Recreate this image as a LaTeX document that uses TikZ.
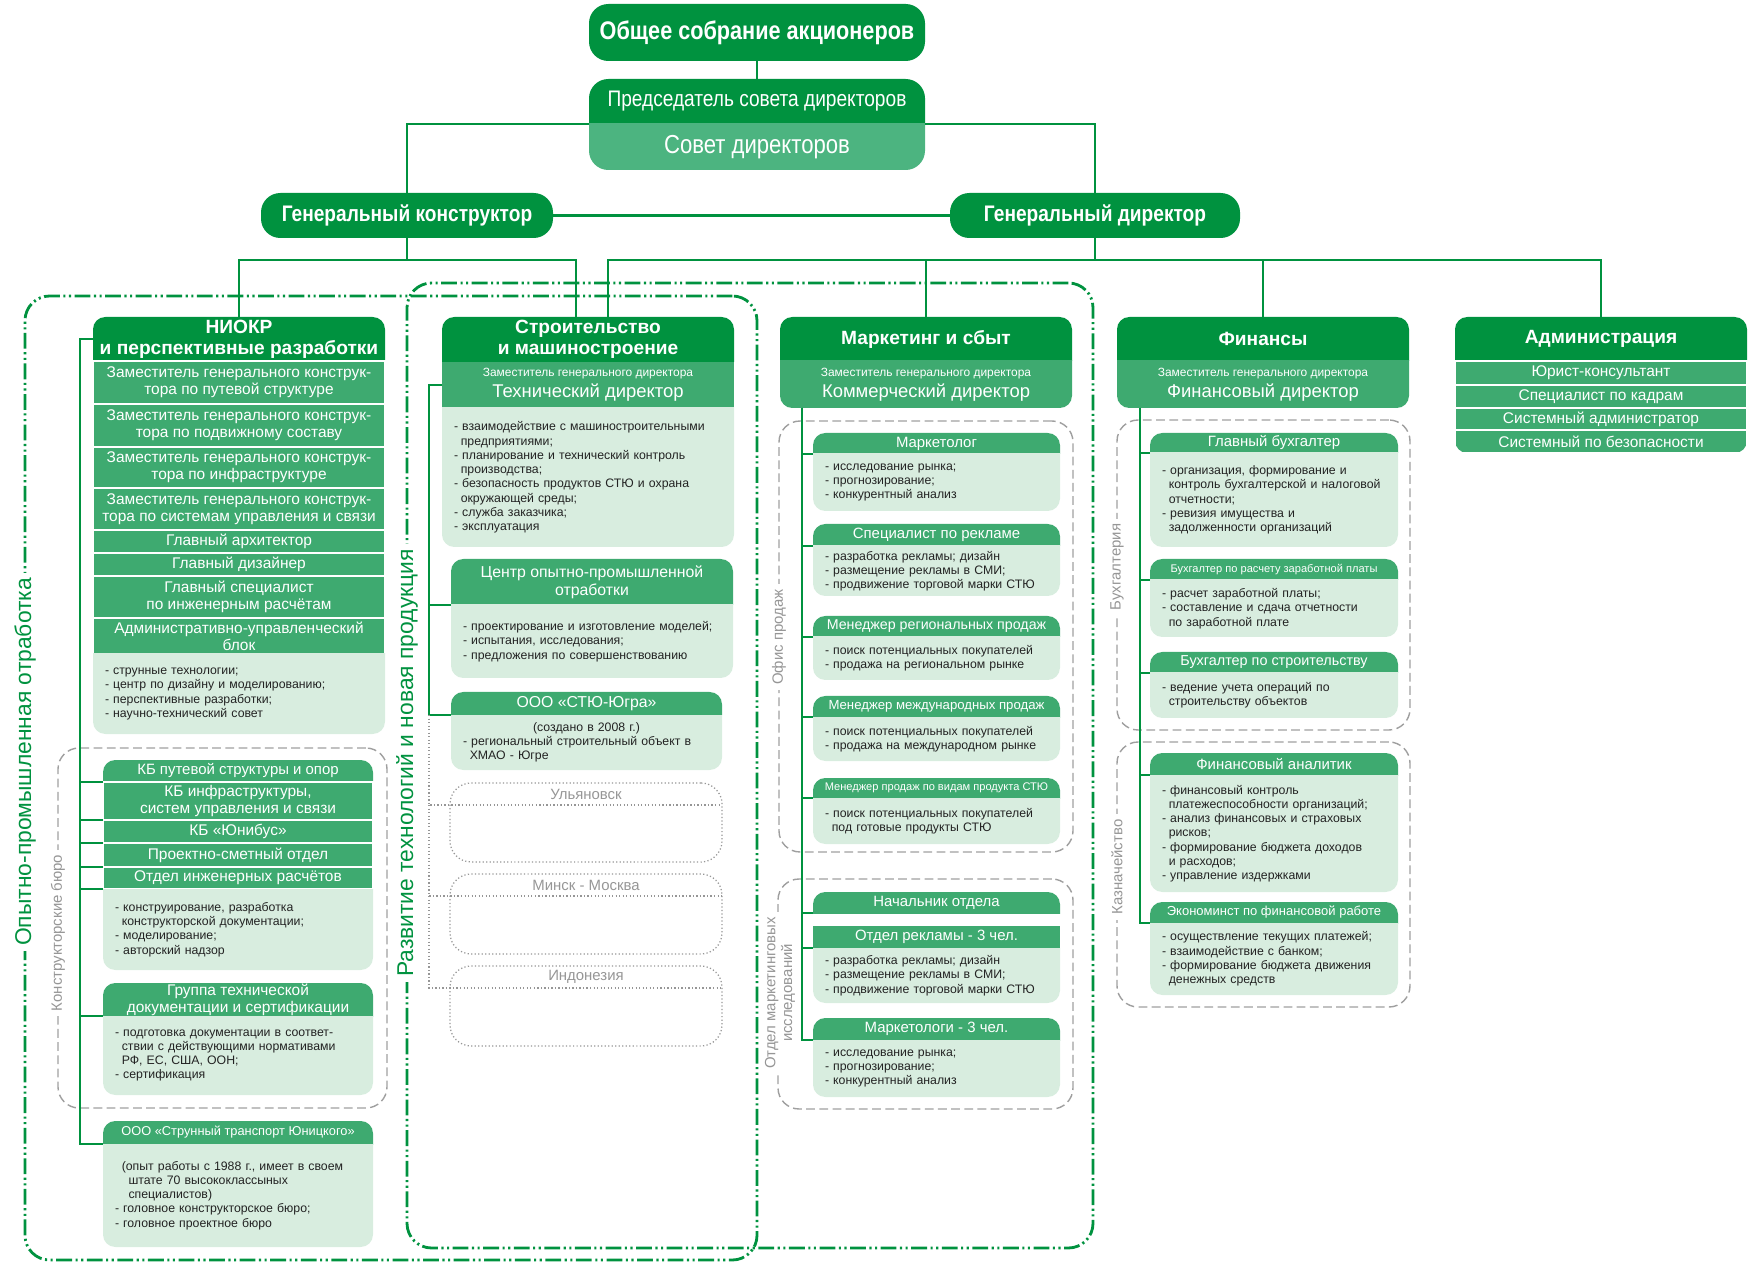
\documentclass[tikz,border=0pt]{standalone}
\usepackage{fontspec}
\setmainfont{Liberation Sans}
\newfontfamily\narrowfont[FakeStretch=0.85]{Liberation Sans}
\usepackage{xcolor}
\usepackage{tikz}
\usetikzlibrary{positioning}

\definecolor{darkg}{RGB}{0,146,63}
\definecolor{midg}{RGB}{62,170,112}
\definecolor{boardg}{RGB}{76,180,128}
\definecolor{lightg}{RGB}{216,237,223}
\definecolor{txtc}{RGB}{35,35,35}
\definecolor{lblgray}{RGB}{150,150,150}

\newcommand{\pxu}{0.02cm}
\newcommand{\contind}{\hspace*{0.55em}}

\begin{document}
\begin{tikzpicture}[
    x=0.02cm, y=-0.02cm,
    node distance=0pt,
    every node/.style={inner sep=0pt, outer sep=0pt},
    boxw/.style={minimum width=#1*\pxu},
    boxh/.style={minimum height=#1*\pxu},
    toprnd/.style={path picture={\fill[rounded corners=7pt,#1] ([yshift=-12pt]path picture bounding box.south west) rectangle (path picture bounding box.north east);}},
    botrnd/.style={path picture={\fill[rounded corners=7pt,#1] (path picture bounding box.south west) rectangle ([yshift=12pt]path picture bounding box.north east);}},
    topbox/.style={fill=darkg, rounded corners=11pt, text=white, anchor=north west},
    colhead/.style={toprnd=darkg, boxw=292, boxh=44, anchor=north west, text=white, align=center, font=\bfseries\fontsize{10.9}{12}\selectfont},
    rowbox/.style={fill=midg, draw=white, line width=1pt, text=white, align=center, font=\fontsize{8.8}{9.8}\selectfont},
    subhead/.style={text=white, align=center, font=\fontsize{6.8}{12}\selectfont},
    cardhead/.style={toprnd=midg, text=white, align=center, font=\fontsize{8.5}{10}\selectfont},
    cardbody/.style={botrnd=lightg, boxw=#1, text width=#1*\pxu-24*\pxu, text=txtc, align=left, font=\fontsize{7}{8.1}\selectfont},
    conn/.style={draw=darkg, line width=1.6pt},
    dotline/.style={draw=lblgray, line width=0.7pt, dash pattern=on 0.7pt off 1.3pt},
    ddframe/.style={draw=darkg, line width=1.6pt, rounded corners=14pt, dash pattern=on 9pt off 2pt on 1.2pt off 2pt on 1.2pt off 2pt, anchor=north west},
    frlabel/.style={fill=white, text=darkg, rotate=90, inner xsep=3pt, font=\fontsize{13}{15}\selectfont},
    grpbox/.style={draw=gray!75, line width=0.8pt, rounded corners=12pt, dash pattern=on 5pt off 2.5pt, anchor=north west},
    grlabel/.style={fill=white, text=lblgray, rotate=90, inner xsep=3pt, align=center, font=\fontsize{8.5}{9.5}\selectfont},
    dotbox/.style={draw=lblgray, line width=0.7pt, dash pattern=on 0.7pt off 1.3pt, rounded corners=12pt, anchor=north west, boxw=272, boxh=79},
    dotlbl/.style={boxw=272, boxh=22, anchor=north, text=lblgray, font=\fontsize{8.5}{10}\selectfont}
]
\useasboundingbox (0,0) rectangle (1752,1263);

% frames
\node[ddframe, boxw=732, boxh=964] (opyt) at (25,296) {};
\node[ddframe, boxw=686, boxh=965] (razv) at (407,283) {};
\node[frlabel] (opytl) at (25,762) {Опытно-промышленная отработка};
\node[frlabel] (razvl) at (407,763) {Развитие технологий и новая продукция};

% groups
\node[grpbox, boxw=329, boxh=360] (kbgrp) at (58,748) {};
\node[grlabel] (kbgrpl) at (58,933) {Конструкторские бюро};
\node[grpbox, boxw=294, boxh=431] (office) at (779,421) {};
\node[grlabel] (officel) at (779,637) {Офис продаж};
\node[grpbox, boxw=295, boxh=230] (mres) at (778,879) {};
\node[grlabel] (mresl) at (780,993) {Отдел маркетинговых\\исследований};
\node[grpbox, boxw=293, boxh=310] (buh) at (1117,420) {};
\node[grlabel] (buhl) at (1117,567) {Бухгалтерия};
\node[grpbox, boxw=293, boxh=265] (kazn) at (1117,742) {};
\node[grlabel] (kaznl) at (1117,867) {Казначейство};

% top
\node[topbox, boxw=336, boxh=57, font=\narrowfont\bfseries\fontsize{14.5}{16}\selectfont] (gsa) at (589,4) {Общее собрание акционеров};
\node[toprnd={darkg,rounded corners=11pt}, boxw=336, boxh=45, anchor=north west, text=white, font=\narrowfont\fontsize{12.8}{14}\selectfont] (chair) at (589,79) {Председатель совета директоров};
\node[botrnd={boardg,rounded corners=11pt}, boxw=336, boxh=46, below=of chair, text=white, font=\narrowfont\fontsize{14.8}{16}\selectfont] (board) {Совет директоров};
\node[topbox, boxw=292, boxh=45, font=\narrowfont\bfseries\fontsize{12.8}{14}\selectfont] (gk) at (261,193) {Генеральный конструктор};
\node[topbox, boxw=290, boxh=45, font=\narrowfont\bfseries\fontsize{12.8}{14}\selectfont] (gd) at (950,193) {Генеральный директор};

% NIOKR
\node[colhead] (niokr) at (93,317) {НИОКР\\и перспективные разработки};
\node[rowbox, boxw=292, boxh=43, below=of niokr] (niokr1) {Заместитель генерального конструк-\\тора по путевой структуре};
\node[rowbox, boxw=292, boxh=43, below=of niokr1] (niokr2) {Заместитель генерального конструк-\\тора по подвижному составу};
\node[rowbox, boxw=292, boxh=41, below=of niokr2] (niokr3) {Заместитель генерального конструк-\\тора по инфраструктуре};
\node[rowbox, boxw=292, boxh=42, below=of niokr3] (niokr4) {Заместитель генерального конструк-\\тора по системам управления и связи};
\node[rowbox, boxw=292, boxh=23, below=of niokr4] (niokr5) {Главный архитектор};
\node[rowbox, boxw=292, boxh=23, below=of niokr5] (niokr6) {Главный дизайнер};
\node[rowbox, boxw=292, boxh=42, below=of niokr6] (niokr7) {Главный специалист\\по инженерным расчётам};
\node[rowbox, boxw=292, boxh=36, below=of niokr7] (niokr8) {Административно-управленческий\\блок};
\node[cardbody=292, boxh=80, below=of niokr8] (niokrb) {- струнные технологии;\\- центр по дизайну и моделированию;\\- перспективные разработки;\\- научно-технический совет};

\node[cardhead, boxw=270, boxh=22, anchor=north west] (kb1) at (103,760) {КБ путевой структуры и опор};
\node[rowbox, boxw=270, boxh=38, below=of kb1] (kb2) {КБ инфраструктуры,\\систем управления и связи};
\node[rowbox, boxw=270, boxh=23, below=of kb2] (kb3) {КБ «Юнибус»};
\node[rowbox, boxw=270, boxh=24, below=of kb3] (kb4) {Проектно-сметный отдел};
\node[rowbox, boxw=270, boxh=22, below=of kb4] (kb5) {Отдел инженерных расчётов};
\node[cardbody=270, boxh=81, below=of kb5] (kbb) {- конструирование, разработка\\\contind конструкторской документации;\\- моделирование;\\- авторский надзор};

\node[cardhead, boxw=270, boxh=33, anchor=north west, font=\fontsize{8.8}{9.8}\selectfont] (grp) at (103,983) {Группа технической\\документации и сертификации};
\node[cardbody=270, boxh=79, below=of grp] (grpb) {- подготовка документации в соответ-\\\contind ствии с действующими нормативами\\\contind РФ, ЕС, США, ООН;\\- сертификация};

\node[cardhead, boxw=270, boxh=23, anchor=north west, font=\fontsize{7.3}{9}\selectfont] (strun) at (103,1121) {ООО «Струнный транспорт Юницкого»};
\node[cardbody=270, boxh=103, below=of strun] (strunb) {\contind(опыт работы с 1988 г., имеет в своем\\\contind\contind штате 70 высококлассыных\\\contind\contind специалистов)\\- головное конструкторское бюро;\\- головное проектное бюро};

% Stroitelstvo
\node[colhead, boxh=45] (stroi) at (442,317) {Строительство\\и машиностроение};
\node[fill=midg, boxw=292, boxh=46, below=of stroi, subhead] (stsub) {Заместитель генерального директора\\{\fontsize{10.5}{12}\selectfont Технический директор}};
\node[cardbody=292, boxh=139, below=of stsub] (stbody) {- взаимодействие с машиностроительными\\\contind предприятиями;\\- планирование и технический контроль\\\contind производства;\\- безопасность продуктов СТЮ и охрана\\\contind окружающей среды;\\- служба заказчика;\\- эксплуатация};

\node[cardhead, boxw=282, boxh=46, anchor=north west, font=\fontsize{9}{10.5}\selectfont] (center) at (451,559) {Центр опытно-промышленной\\отработки};
\node[cardbody=282, boxh=73, below=of center] (centerb) {- проектирование и изготовление моделей;\\- испытания, исследования;\\- предложения по совершенствованию};

\node[cardhead, boxw=271, boxh=23, anchor=north west, font=\fontsize{9}{10.5}\selectfont] (stu) at (451,692) {ООО «СТЮ-Югра»};
\node[cardbody=271, boxh=55, below=of stu] (stub) {\makebox[\linewidth]{(создано в 2008 г.)}\\- региональный строительный объект в\\\contind ХМАО - Югре};

\node[dotbox] (uly) at (450,783) {};
\node[dotlbl] (ulyl) at (uly.north) {Ульяновск};
\node[dotbox, boxh=80] (mos) at (450,874) {};
\node[dotlbl] (mosl) at (mos.north) {Минск - Москва};
\node[dotbox, boxh=80] (ind) at (450,966) {};
\node[dotlbl] (indl) at (ind.north) {Индонезия};

% Marketing
\node[colhead] (mkt) at (780,317) {Маркетинг и сбыт};
\node[botrnd=midg, boxw=292, boxh=47, below=of mkt, subhead] (mktsub) {Заместитель генерального директора\\{\fontsize{10.5}{12}\selectfont Коммерческий директор}};

\node[cardhead, boxw=247, boxh=21, anchor=north west] (mk1) at (813,433) {Маркетолог};
\node[cardbody=247, boxh=57, below=of mk1] (mk1b) {- исследование рынка;\\- прогнозирование;\\- конкурентный анализ};
\node[cardhead, boxw=247, boxh=22, anchor=north west] (mk2) at (813,524) {Специалист по рекламе};
\node[cardbody=247, boxh=50, below=of mk2] (mk2b) {- разработка рекламы; дизайн\\- размещение рекламы в СМИ;\\- продвижение торговой марки СТЮ};
\node[cardhead, boxw=247, boxh=21, anchor=north west, font=\fontsize{8.1}{10}\selectfont] (mk3) at (813,616) {Менеджер региональных продаж};
\node[cardbody=247, boxh=43, below=of mk3] (mk3b) {- поиск потенциальных покупателей\\- продажа на региональном рынке};
\node[cardhead, boxw=247, boxh=21, anchor=north west, font=\fontsize{7.5}{9}\selectfont] (mk4) at (813,696) {Менеджер международных продаж};
\node[cardbody=247, boxh=44, below=of mk4] (mk4b) {- поиск потенциальных покупателей\\- продажа на международном рынке};
\node[cardhead, boxw=247, boxh=20, anchor=north west, font=\fontsize{6.3}{8}\selectfont] (mk5) at (813,778) {Менеджер продаж по видам продукта СТЮ};
\node[cardbody=247, boxh=46, below=of mk5] (mk5b) {- поиск потенциальных покупателей\\\contind под готовые продукты СТЮ};

\node[cardhead, boxw=247, boxh=21, anchor=north west] (mk6) at (813,892) {Начальник отдела};
\node[fill=midg, boxw=247, boxh=22, anchor=north west, text=white, font=\fontsize{8.5}{10}\selectfont] (mk7) at (813,926) {Отдел рекламы - 3 чел.};
\node[cardbody=247, boxh=55, below=of mk7] (mk7b) {- разработка рекламы; дизайн\\- размещение рекламы в СМИ;\\- продвижение торговой марки СТЮ};
\node[cardhead, boxw=247, boxh=22, anchor=north west] (mk8) at (813,1018) {Маркетологи - 3 чел.};
\node[cardbody=247, boxh=57, below=of mk8] (mk8b) {- исследование рынка;\\- прогнозирование;\\- конкурентный анализ};

% Finance
\node[colhead] (fin) at (1117,317) {Финансы};
\node[botrnd=midg, boxw=292, boxh=47, below=of fin, subhead] (finsub) {Заместитель генерального директора\\{\fontsize{10.5}{12}\selectfont Финансовый директор}};

\node[cardhead, boxw=248, boxh=20, anchor=north west] (fn1) at (1150,433) {Главный бухгалтер};
\node[cardbody=248, boxh=94, below=of fn1] (fn1b) {- организация, формирование и\\\contind контроль бухгалтерской и налоговой\\\contind отчетности;\\- ревизия имущества и\\\contind задолженности организаций};
\node[cardhead, boxw=248, boxh=21, anchor=north west, font=\fontsize{6.3}{8}\selectfont] (fn2) at (1150,559) {Бухгалтер по расчету заработной платы};
\node[cardbody=248, boxh=57, below=of fn2] (fn2b) {- расчет заработной платы;\\- составление и сдача отчетности\\\contind по заработной плате};
\node[cardhead, boxw=248, boxh=21, anchor=north west, font=\fontsize{8.2}{10}\selectfont] (fn3) at (1150,652) {Бухгалтер по строительству};
\node[cardbody=248, boxh=45, below=of fn3] (fn3b) {- ведение учета операций по\\\contind строительству объектов};
\node[cardhead, boxw=248, boxh=22, anchor=north west] (fn4) at (1150,753) {Финансовый аналитик};
\node[cardbody=248, boxh=117, below=of fn4] (fn4b) {- финансовый контроль\\\contind платежеспособности организаций;\\- анализ финансовых и страховых\\\contind рисков;\\- формирование бюджета доходов\\\contind и расходов;\\- управление издержками};
\node[cardhead, boxw=248, boxh=21, anchor=north west, font=\fontsize{7.4}{9}\selectfont] (fn5) at (1150,902) {Экономинст по финансовой работе};
\node[cardbody=248, boxh=72, below=of fn5] (fn5b) {- осуществление текущих платежей;\\- взаимодействие с банком;\\- формирование бюджета движения\\\contind денежных средств};

% Administration
\node[colhead] (adm) at (1455,317) {Администрация};
\node[rowbox, boxw=292, boxh=24, below=of adm, font=\fontsize{8.8}{10}\selectfont] (adm1) {Юрист-консультант};
\node[rowbox, boxw=292, boxh=23, below=of adm1, font=\fontsize{8.8}{10}\selectfont] (adm2) {Специалист по кадрам};
\node[rowbox, boxw=292, boxh=22, below=of adm2, font=\fontsize{8.8}{10}\selectfont] (adm3) {Системный администратор};
\node[rowbox, fill=none, botrnd=midg, boxw=292, boxh=23, below=of adm3, font=\fontsize{8.8}{10}\selectfont] (adm4) {Системный по безопасности};

% connectors
\draw[conn] (gsa) -- (chair);
\draw[conn] (chair.south west) -| (gk);
\draw[conn] (chair.south east) -| (gd);
\draw[conn] (gk) -- (gd);
\coordinate (gkbus) at ([yshift=-22*\pxu]gk.south);
\coordinate (gdbus) at ([yshift=-22*\pxu]gd.south);
\draw[conn] (gk) -- (gkbus) -| (niokr);
\draw[conn] (gkbus) -| ([xshift=-12*\pxu]stroi.north);
\draw[conn] (gd) -- (gdbus) -| ([xshift=20*\pxu]stroi.north);
\draw[conn] (gdbus) -| (mkt);
\draw[conn] (gdbus) -| (fin);
\draw[conn] (gdbus) -| (adm);

\coordinate (nspine) at ([xshift=-13*\pxu]niokr.west);
\draw[conn] (niokr.west) -- (nspine) |- (strun.south west);
\draw[conn] (nspine) |- (kb1.south west);
\draw[conn] (nspine) |- (kb2.south west);
\draw[conn] (nspine) |- (kb3.south west);
\draw[conn] (nspine) |- (kb4.south west);
\draw[conn] (nspine) |- (kb5.south west);
\draw[conn] (nspine) |- (grp.south west);

\coordinate (sspine) at ([xshift=-13*\pxu]stsub.west);
\draw[conn] (stsub.west) -- (sspine) |- (stu.south west);
\draw[conn] (sspine) |- (center.south west);
\draw[dotline] (sspine |- stu.south) |- (ulyl.south east);
\draw[dotline] (sspine |- ulyl.south) |- (mosl.south east);
\draw[dotline] (sspine |- mosl.south) |- (indl.south east);

\coordinate (mspine) at ([xshift=22*\pxu]mktsub.south west);
\draw[conn] (mspine) |- (mk8.south west);
\draw[conn] (mspine) |- (mk1.south west);
\draw[conn] (mspine) |- (mk2.south west);
\draw[conn] (mspine) |- (mk3.south west);
\draw[conn] (mspine) |- (mk4.south west);
\draw[conn] (mspine) |- (mk5.south west);
\draw[conn] (mspine) |- (mk6.south west);
\draw[conn] (mspine) |- (mk7.south west);

\coordinate (fspine) at ([xshift=23*\pxu]finsub.south west);
\draw[conn] (fspine) |- (fn5.south west);
\draw[conn] (fspine) |- (fn1.south west);
\draw[conn] (fspine) |- (fn2.south west);
\draw[conn] (fspine) |- (fn3.south west);
\draw[conn] (fspine) |- (fn4.south west);

\end{tikzpicture}
\end{document}
